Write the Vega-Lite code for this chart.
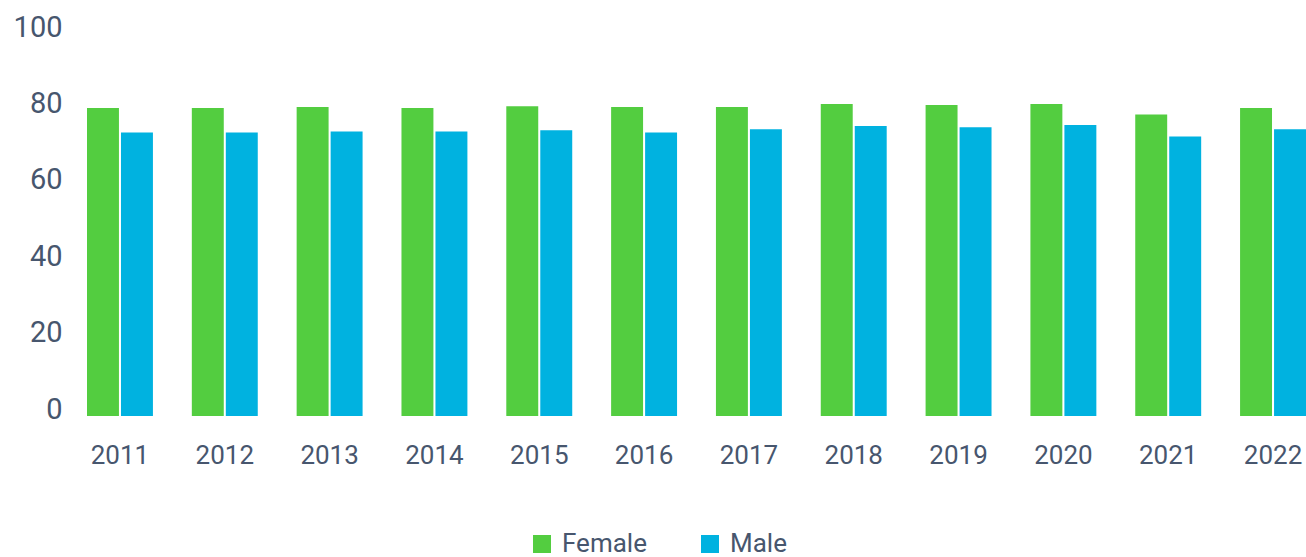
{
  "$schema": "https://vega.github.io/schema/vega-lite/v6.json",
  "autosize": "none",
  "width": 1219,
  "height": 389,
  "padding": {"left": 87, "top": 27, "right": 0, "bottom": 141},
  "background": "white",
  "config": {
    "view": {"stroke": null},
    "font": "Roboto",
    "axis": {"labelFont": "Roboto", "labelColor": "#47566e", "labelFontSize": 26}
  },
  "data": {
    "values": [
      {"year": "2011", "sex": "Female", "value": 78.8},
      {"year": "2011", "sex": "Male", "value": 72.4},
      {"year": "2012", "sex": "Female", "value": 78.8},
      {"year": "2012", "sex": "Male", "value": 72.4},
      {"year": "2013", "sex": "Female", "value": 79.1},
      {"year": "2013", "sex": "Male", "value": 72.7},
      {"year": "2014", "sex": "Female", "value": 78.8},
      {"year": "2014", "sex": "Male", "value": 72.7},
      {"year": "2015", "sex": "Female", "value": 79.3},
      {"year": "2015", "sex": "Male", "value": 73.0},
      {"year": "2016", "sex": "Female", "value": 79.1},
      {"year": "2016", "sex": "Male", "value": 72.4},
      {"year": "2017", "sex": "Female", "value": 79.1},
      {"year": "2017", "sex": "Male", "value": 73.3},
      {"year": "2018", "sex": "Female", "value": 79.9},
      {"year": "2018", "sex": "Male", "value": 74.1},
      {"year": "2019", "sex": "Female", "value": 79.6},
      {"year": "2019", "sex": "Male", "value": 73.8},
      {"year": "2020", "sex": "Female", "value": 79.9},
      {"year": "2020", "sex": "Male", "value": 74.4},
      {"year": "2021", "sex": "Female", "value": 77.1},
      {"year": "2021", "sex": "Male", "value": 71.4},
      {"year": "2022", "sex": "Female", "value": 78.8},
      {"year": "2022", "sex": "Male", "value": 73.3}
    ]
  },
  "mark": {"type": "bar"},
  "encoding": {
    "x": {
      "field": "year",
      "type": "nominal",
      "scale": {"paddingInner": 0.371, "paddingOuter": 0},
      "axis": {
        "title": null,
        "labelAngle": 0,
        "ticks": false,
        "domain": false,
        "labelPadding": 26
      }
    },
    "xOffset": {
      "field": "sex",
      "type": "nominal",
      "scale": {"paddingInner": 0.06, "paddingOuter": 0}
    },
    "y": {
      "field": "value",
      "type": "quantitative",
      "scale": {"domain": [-1.7, 100], "nice": false, "zero": false},
      "axis": {
        "title": null,
        "values": [0, 20, 40, 60, 80, 100],
        "grid": false,
        "ticks": false,
        "domain": false,
        "labelFontSize": 29,
        "labelPadding": 25
      }
    },
    "y2": {"datum": -1.7},
    "color": {
      "field": "sex",
      "type": "nominal",
      "scale": {"domain": ["Female", "Male"], "range": ["#53cd40", "#00b2e0"]},
      "legend": {
        "title": null,
        "orient": "none",
        "direction": "horizontal",
        "legendX": 442,
        "legendY": 504,
        "symbolType": "square",
        "symbolSize": 324,
        "symbolStrokeWidth": 0,
        "labelFont": "Roboto",
        "labelFontSize": 26,
        "labelColor": "#47566e",
        "labelOffset": 7,
        "columnPadding": 50
      }
    }
  }
}
